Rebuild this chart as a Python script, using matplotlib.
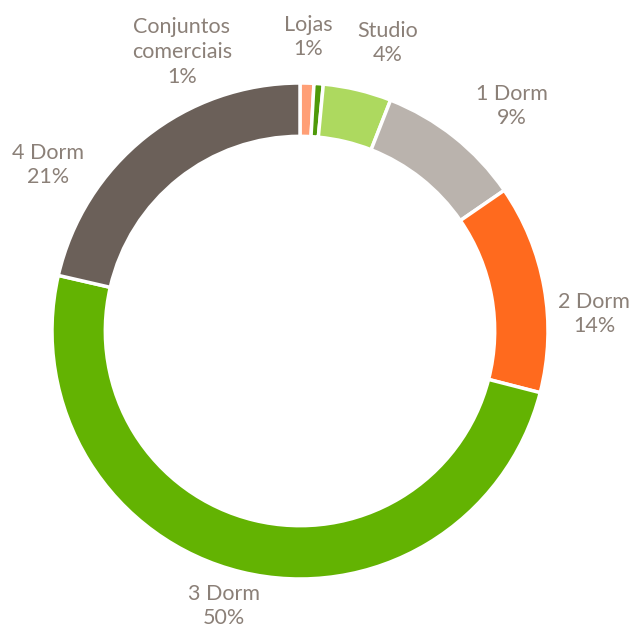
import matplotlib
matplotlib.use("Agg")
import matplotlib.pyplot as plt

categories = ["Conjuntos\ncomerciais", "Lojas", "Studio", "1 Dorm", "2 Dorm", "3 Dorm", "4 Dorm"]
shares = [0.9, 0.6, 4.45, 9.45, 13.6, 49.6, 21.4]
colors = ["#FF9F76", "#4F9A0A", "#ADD95F", "#BAB3AD", "#FF6A1E", "#63B302", "#6B6059"]

# label centres in pixels (manual placement, as in the original)
label_px = [(182, 52), (308, 37), (388, 43), (512, 106), (594, 314), (224, 606), (48, 165)]

W, H = 632, 630
cx, cy, R = 300, 331, 248


def to_data(px, py):
    return (px - cx) / R, (cy - py) / R


fig = plt.figure(figsize=(W / 100, H / 100), dpi=100)
ax = fig.add_axes([0, 0, 1, 1])
ax.pie(shares, colors=colors, startangle=90, counterclock=False, radius=1,
       wedgeprops=dict(width=0.215, edgecolor="white", linewidth=2.5))
ax.set_aspect("auto")
ax.set_xlim(-cx / R, (W - cx) / R)
ax.set_ylim((cy - H) / R, cy / R)
ax.axis("off")

for name, val, (px, py) in zip(categories, shares, label_px):
    x, y = to_data(px, py)
    ax.text(x, y, f"{name}\n{round(val)}%", ha="center", va="center",
            fontsize=15.5, color="#8B8078", family="Lato", linespacing=1.3)

fig.savefig("out.png", dpi=100)
